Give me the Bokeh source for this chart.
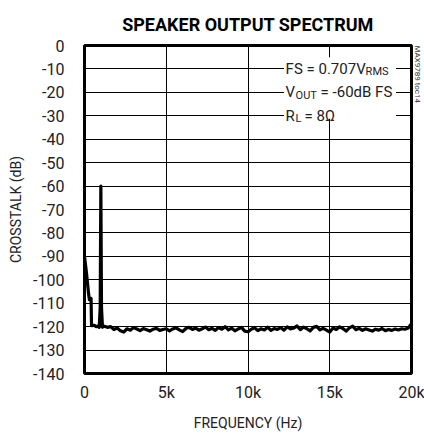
import math
from bokeh.plotting import figure
from bokeh.models import Label, BoxAnnotation, FixedTicker, Title
from bokeh.embed import file_html
from bokeh.resources import INLINE

# ---- data ----
freq_hz = [0, 120, 250, 300, 400, 430, 470, 600, 700, 800, 900, 960, 1000, 1040, 1100,
           1200, 1400, 1600, 1800, 2000, 2200, 2400, 2600, 2800, 3000, 3200, 3400, 3600, 3800,
           4000, 4200, 4400, 4600, 4800, 5000, 5200, 5400, 5600, 5800, 6000, 6200, 6400, 6600,
           6800, 7000, 7200, 7400, 7600, 7800, 8000, 8200, 8400, 8600, 8800, 9000, 9200, 9400,
           9600, 9800, 10000, 10200, 10400, 10600, 10800, 11000, 11200, 11400, 11600, 11800,
           12000, 12200, 12400, 12600, 12800, 13000, 13200, 13400, 13600, 13800, 14000, 14200,
           14400, 14600, 14800, 15000, 15200, 15400, 15600, 15800, 16000, 16200, 16400, 16600,
           16800, 17000, 17200, 17400, 17600, 17800, 18000, 18200, 18400, 18600, 18800, 19000,
           19200, 19400, 19600, 19800, 20000]
crosstalk_db = [-90.0, -97.0, -106.0, -108.5, -108.0, -119.5, -119.6, -119.4, -120.0, -119.8,
                -120.3, -112.0, -60.0, -112.0, -120.2,
                -119.8, -120.3, -120.0, -121.2, -120.6, -121.8, -122.3, -120.9, -121.5, -120.4,
                -121.0, -121.7, -120.8, -121.3, -121.9, -121.1, -120.7, -121.6, -121.2, -120.9,
                -121.8, -121.0, -120.5, -121.4, -122.1, -120.8, -120.3, -121.2, -120.6, -121.5,
                -120.9, -120.2, -121.3, -120.7, -121.6, -120.4, -121.1, -120.0, -121.4, -120.6,
                -121.8, -121.0, -120.3, -121.9, -122.2, -121.1, -120.5, -121.7, -120.9, -121.4,
                -120.2, -121.6, -120.8, -121.2, -120.4, -121.5, -120.1, -121.0, -120.6, -119.7,
                -121.3, -120.2, -120.9, -121.8, -120.3, -119.9, -121.4, -120.7, -121.5, -122.3,
                -120.6, -121.2, -120.1, -120.8, -121.9, -120.5, -119.8, -121.3, -120.7, -121.6,
                -120.9, -121.4, -121.9, -121.1, -121.5, -120.8, -121.7, -121.2, -121.6, -121.0,
                -121.4, -120.9, -121.1, -120.6, -118.8]

x_ticks = [0, 5000, 10000, 15000, 20000]
x_tick_labels = {0: "0", 5000: "5k", 10000: "10k", 15000: "15k", 20000: "20k"}
y_ticks = list(range(-140, 1, 10))
y_tick_labels = {v: ("-" + str(-v) if v < 0 else "0") for v in y_ticks}

FONT = "Roboto"

p = figure(width=424, height=435,
           x_range=(0, 20000), y_range=(-140, 0),
           output_backend="svg", toolbar_location=None,
           min_border_left=84, min_border_right=12, min_border_top=45, min_border_bottom=62)

p.title.text = "SPEAKER OUTPUT SPECTRUM"
p.title.align = "center"
p.title.text_font = FONT
p.title.text_font_size = "18px"
p.title.text_font_style = "bold"
p.title.text_color = "black"
try:
    p.title.standoff = 22
except Exception:
    pass

# sideways figure code at the right edge
side = Title(text="MAX9789 toc14", align="left", text_font=FONT,
             text_font_size="8px", text_font_style="normal", text_color="#333")
try:
    side.standoff = 2
except Exception:
    pass
p.add_layout(side, "right")

p.background_fill_color = "white"
p.border_fill_color = "white"
p.outline_line_color = "black"
p.outline_line_width = 3

xax = p.below[0]
yax = p.left[0]
for ax in (xax, yax):
    ax.axis_line_color = None
    ax.major_tick_line_color = None
    ax.minor_tick_line_color = None
    ax.major_label_text_font = FONT
    ax.major_label_text_font_size = "16px"
    ax.major_label_text_color = "#222"
    ax.axis_label_text_font = FONT
    ax.axis_label_text_font_size = "14px"
    ax.axis_label_text_font_style = "normal"
    ax.axis_label_text_color = "#222"

xax.ticker = FixedTicker(ticks=x_ticks)
xax.major_label_overrides = x_tick_labels
yax.ticker = FixedTicker(ticks=y_ticks)
yax.major_label_overrides = y_tick_labels
xax.major_label_standoff = 3
yax.major_label_standoff = 14
xax.axis_label = "FREQUENCY (Hz)"
yax.axis_label = "CROSSTALK (dB)"
xax.axis_label_standoff = 10
yax.axis_label_standoff = 6

p.xgrid.grid_line_color = "black"
p.ygrid.grid_line_color = "black"
p.xgrid.grid_line_width = 1
p.ygrid.grid_line_width = 1

p.line(freq_hz, crosstalk_db, line_color="black", line_width=3.2, line_join="round")

p.add_layout(BoxAnnotation(left=12200, right=19050, top=-5, bottom=-31.3,
                           fill_color="white", fill_alpha=1, line_color=None, level="glyph"))

def lab(x, y, text, size, xo=0, yo=0):
    p.add_layout(Label(x=x, y=y, text=text, x_offset=xo, y_offset=yo,
                       text_font=FONT, text_font_size=size, text_color="#222",
                       text_baseline="middle", text_align="left"))

ax0 = 12300
lab(ax0, -10, "FS = 0.707V", "15px")
lab(ax0, -10, "RMS", "11px", xo=80, yo=-3)
lab(ax0, -20, "V", "15px")
lab(ax0, -20, "OUT", "11px", xo=10, yo=-3)
lab(ax0, -20, "= -60dB FS", "15px", xo=35)
lab(ax0, -30, "R", "15px")
lab(ax0, -30, "L", "11px", xo=10, yo=-3)
lab(ax0, -30, "= 8\u03a9", "15px", xo=19)

open("out.html", "w").write(file_html(p, INLINE))
